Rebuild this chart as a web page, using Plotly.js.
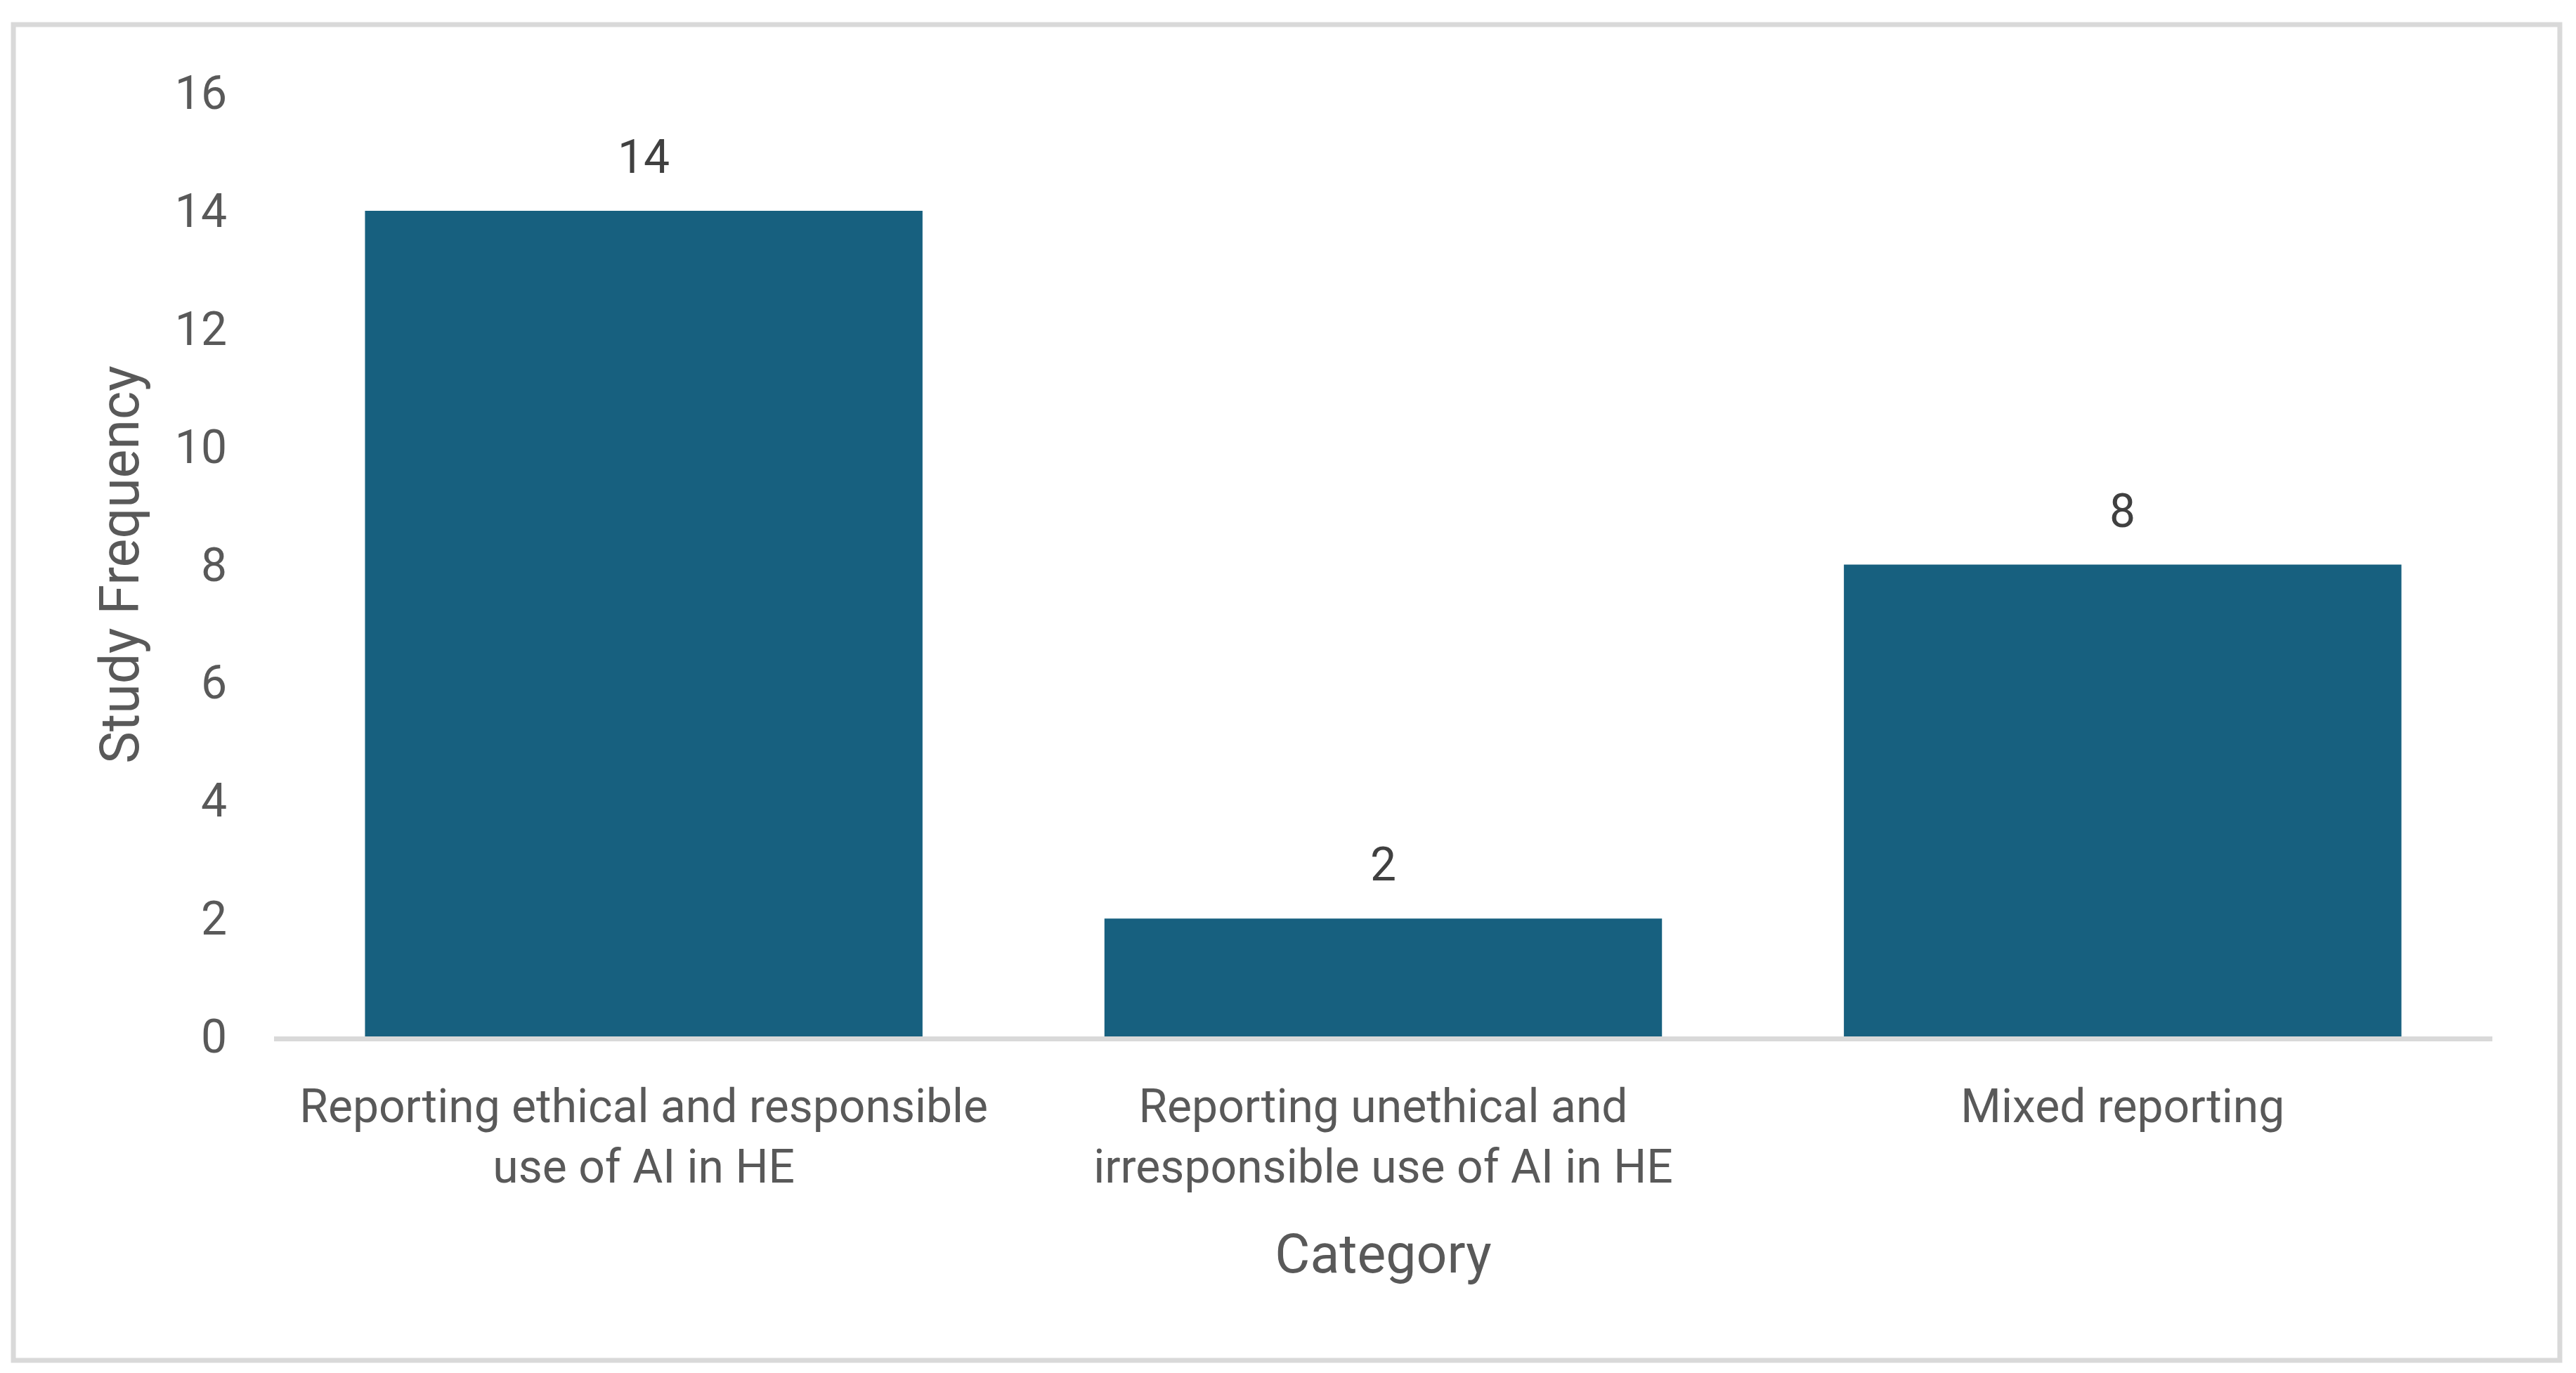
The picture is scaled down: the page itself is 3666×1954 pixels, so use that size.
<!DOCTYPE html>
<html>
<head>
<meta charset="utf-8">
<script src="https://cdn.plot.ly/plotly-3.0.1.min.js"></script>
<style>
  html, body { margin: 0; padding: 0; background: #ffffff; }
  #chart { width: 3666px; height: 1954px; }
</style>
</head>
<body>
<div id="chart"></div>
<script>
const categories = [
  "Reporting ethical and responsible<br>use of AI in HE",
  "Reporting unethical and<br>irresponsible use of AI in HE",
  "Mixed reporting"
];
const studyFrequency = [14, 2, 8];
const yTickValues = [0, 2, 4, 6, 8, 10, 12, 14, 16];
const yTickLabels = ["0", "2", "4", "6", "8", "10", "12", "14", "16"];
const xTitle = "Category";
const yTitle = "Study Frequency";

const FONT = "Roboto, 'Liberation Sans', sans-serif";

const trace = {
  type: "bar",
  x: categories,
  y: studyFrequency,
  marker: { color: "#17607F" },
  hoverinfo: "x+y",
  showlegend: false
};

const labelAnnotations = categories.map((c, i) => ({
  x: c,
  y: studyFrequency[i],
  xref: "x",
  yref: "y",
  text: String(studyFrequency[i]),
  showarrow: false,
  yanchor: "bottom",
  yshift: 36,
  font: { family: FONT, size: 66, color: "#404040" }
}));

const layout = {
  width: 3666,
  height: 1954,
  paper_bgcolor: "#ffffff",
  plot_bgcolor: "#ffffff",
  margin: { l: 390, r: 119, t: 132, b: 479 },
  bargap: 0.246,
  font: { family: FONT, color: "#595959" },
  xaxis: {
    type: "category",
    showline: true,
    linecolor: "#D9D9D9",
    linewidth: 7,
    showgrid: false,
    zeroline: false,
    ticks: "",
    ticklabelstandoff: 36,
    tickfont: { family: FONT, size: 66, color: "#595959" },
    title: { text: xTitle, standoff: 62, font: { family: FONT, size: 77, color: "#595959" } }
  },
  yaxis: {
    range: [0, 16],
    tickmode: "array",
    tickvals: yTickValues,
    ticktext: yTickLabels,
    showline: false,
    showgrid: false,
    zeroline: false,
    ticks: "",
    ticklabelstandoff: 66,
    tickfont: { family: FONT, size: 66, color: "#595959" },
    title: { text: yTitle, standoff: 25, font: { family: FONT, size: 77, color: "#595959" } }
  },
  annotations: labelAnnotations,
  shapes: [{
    type: "rect",
    xref: "paper", yref: "paper",
    x0: -0.1175, x1: 1.0304, y0: -0.3433, y1: 1.0722,
    line: { color: "#D9D9D9", width: 7 },
    fillcolor: "rgba(0,0,0,0)",
    layer: "below"
  }]
};

Plotly.newPlot("chart", [trace], layout, { displayModeBar: false, staticPlot: true });
</script>
</body>
</html>
